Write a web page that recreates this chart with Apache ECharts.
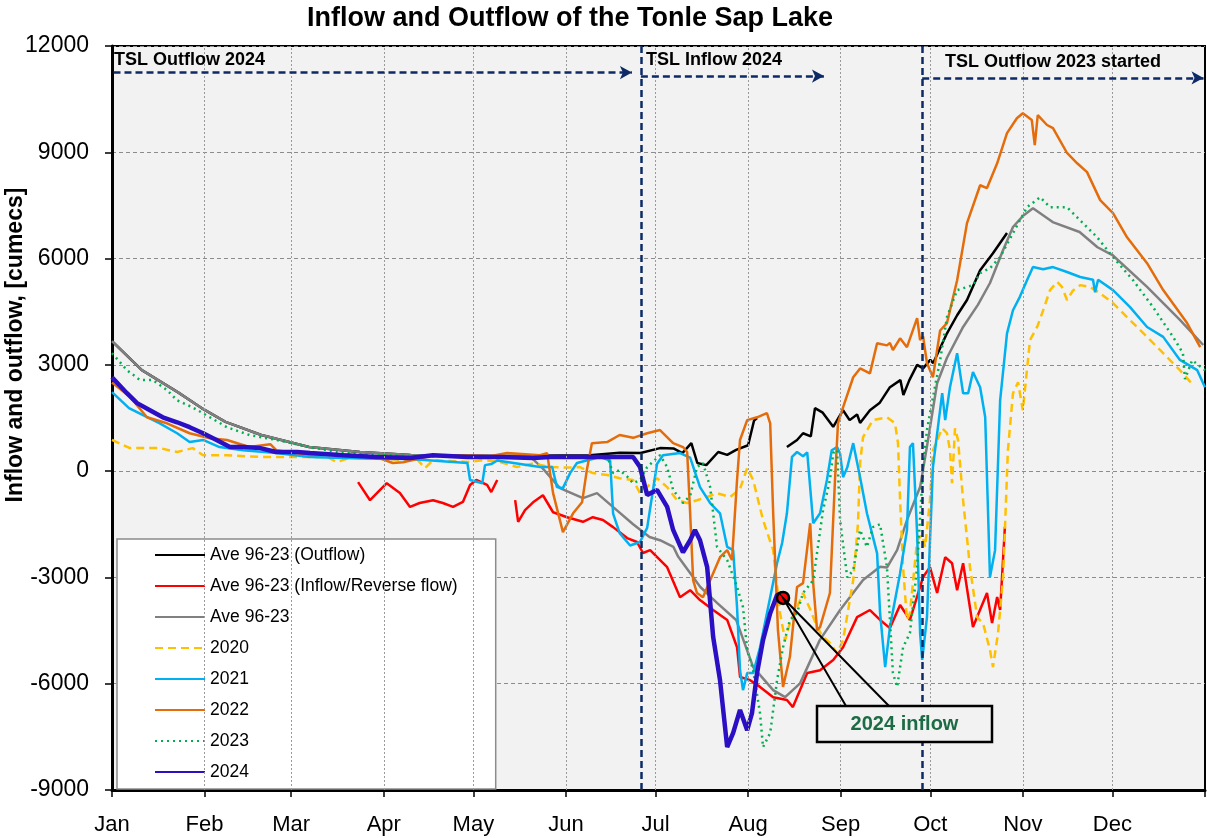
<!DOCTYPE html>
<html>
<head>
<meta charset="utf-8">
<title>Inflow and Outflow of the Tonle Sap Lake</title>
<script src="https://cdn.jsdelivr.net/npm/echarts@6/dist/echarts.min.js"></script>
<style>
  html, body { margin: 0; padding: 0; background: #fff; }
  #main { width: 1207px; height: 838px; }
</style>
</head>
<body>
<div id="main"></div>
<script>
// x = day of year (0 = 1 Jan), y = flow in cumecs
const monthStarts = [0, 31, 60, 91, 121, 152, 182, 213, 244, 274, 305, 335, 366]
const monthNames = ['Jan', 'Feb', 'Mar', 'Apr', 'May', 'Jun', 'Jul', 'Aug', 'Sep', 'Oct', 'Nov', 'Dec']
const yTicks = [-9000, -6000, -3000, 0, 3000, 6000, 9000, 12000]

const aveOutflow = [
  [0, 3670], [10, 2850], [22, 2230], [30, 1780], [38, 1390], [50, 1020], [66, 680], [83, 540], [100, 455],
  [130, 430], [160, 450], [170, 520], [177, 510], [183.5, 650], [188, 640], [191, 510], [194, 790], [196, 230],
  [199, 170], [203, 540], [206, 460], [209, 600], [213, 730], [215, 1430], [216, 1500], [220, null],
  [226, 680], [229.4, 880], [231.4, 1070], [234, 980], [235.4, 1780], [238, 1650], [241.5, 1250], [244.8, 1720],
  [247, 1440], [249.5, 1600], [250.5, 1360], [253.8, 1720], [257, 1920], [260.5, 2370], [264, 2570], [265, 2150],
  [267, 2570], [269.6, 3000], [271.6, 2900], [274, 3140], [275, 3050], [279.6, 3890], [283, 4400], [286.3, 4830],
  [290.7, 5670], [295, 6150], [299.7, 6720]
]

const aveInflow = [
  [82.4, -310], [86.4, -820], [92, -340], [96.4, -620], [99.8, -1010], [103, -900], [107.5, -820], [110.8, -900],
  [114.2, -1010], [117.5, -870], [119.9, -390], [122, -250], [125.6, -390], [127, -590], [129, -250], [132, null],
  [135, -820], [136, -1430], [138.3, -1100], [141, -880], [144.3, -680], [147.7, -1160], [152.4, -1300],
  [157.7, -1430], [161, -1300], [164.4, -1380], [167.8, -1580], [172.5, -1890], [175.8, -2000], [177.8, -2310],
  [180.2, -2230], [185.9, -2710], [190.2, -3560], [193.6, -3360], [196.9, -3640], [201.3, -3920], [206, -4200],
  [209.3, -4970], [210.3, -5810], [213.7, -5900], [217, -6090], [221.4, -6380], [226, -6460], [228, -6660],
  [232.8, -5700], [237.1, -5620], [241.5, -5330], [244.8, -4970], [249.5, -4120], [253.8, -3920], [257.2, -4200],
  [260.5, -4430], [263.9, -3780], [267.2, -4200], [271.6, -2990], [273.9, -2710], [276.3, -3440], [279, -2430],
  [281.3, -2600], [283, -3360], [285, -2600], [288.3, -4400], [293, -3440], [294.7, -4290], [296.4, -3550],
  [297.4, -3920], [299, -1570]
]

const aveAll = [
  [0, 3670], [10, 2850], [22, 2230], [30, 1780], [38, 1390], [50, 1020], [66, 680], [83, 540], [100, 455],
  [120, 430], [140, 410], [144, 100], [150, -480], [157.7, -760], [162.4, -620], [169, -1100], [174.5, -1500],
  [180, -1860], [183.5, -1950], [188, -2140], [189.5, -2400], [197, -3270], [202.6, -3720], [209, -4200],
  [214.7, -5530], [221.4, -6180], [225.4, -6380], [230.4, -5990], [237, -4770], [243.8, -3920], [251.5, -3070],
  [257.2, -2700], [259.5, -2720], [262.9, -2230], [266.2, -1380], [270.6, -450], [272.9, 700], [276.3, 2480],
  [279.6, 3200], [285, 4070], [290, 4700], [294, 5310], [298.4, 6240], [301.7, 6890], [305, 7200], [308.4, 7420],
  [315, 7030], [324, 6750], [330, 6320], [335, 6100], [346.6, 5200], [357.6, 4270], [365.4, 3560]
]

const y2020 = [
  [0, 880], [6, 650], [10.4, 650], [16, 650], [21.8, 540], [27, 650], [30.5, 450], [38.5, 450], [49.6, 400],
  [60.6, 400], [72, 400], [75.3, 255], [79.7, 380], [88.7, 350], [99.8, 310], [102, 350], [104.8, 85], [107.5, 310],
  [119, 260], [124.2, 310], [130, 260], [135.6, 115], [141, 220], [146.7, 115], [152.4, 100], [156.7, 115],
  [161, -55], [165.8, -110], [170, -200], [174.5, -250], [176.8, -620], [182.5, -200], [185.9, -450], [189.2, -820],
  [192.6, -900], [195.9, -820], [199.3, -730], [202.6, -620], [207, -730], [210.3, -500], [212.7, 85], [214.7, -250],
  [218, -1380], [221.4, -2230], [223.7, -4010], [225.4, -4770], [227, -4290], [229.4, -3840], [231.4, -3440],
  [233.8, -3900], [236.1, -4400], [238.1, -4680], [240.4, -4850], [242.8, -5140], [244.8, -4770], [248.2, -3080],
  [249.8, -1470], [250.5, 230], [251.5, 960], [254.8, 1440], [259.5, 1520], [262.2, 1350], [263.2, 790],
  [263.9, -820], [264.9, -2710], [266.2, -4200], [267.2, -4000], [268.2, -3160], [269.6, -1950], [271.3, -1800],
  [272.3, -2140], [273.9, -820], [274.9, 590], [278, 1210], [279.6, 1070], [280.6, 590], [281.3, -340],
  [282.3, 1210], [283.3, 880], [285, -820], [287.3, -2710], [289.7, -4120], [291.7, -4300], [294, -5050],
  [295, -5530], [296.7, -4570], [298.4, -2990], [300, 590], [301.7, 2200], [303.4, 2510], [305, 1720],
  [307.4, 3700], [309.8, 4070], [311.8, 4540], [314.1, 5110], [316.5, 5340], [318.1, 5200], [319.8, 4830],
  [321.8, 5100], [324.2, 5250], [327.5, 5200], [330.9, 5020], [335.2, 4740], [340.9, 4260], [346.6, 3790],
  [352, 3330], [357.6, 2850], [362, 2430]
]

const y2021 = [
  [0, 2230], [5.7, 1780], [10.4, 1580], [16, 1350], [21.8, 1070], [26, 820], [30.5, 880], [36, 680], [43.9, 590],
  [55, 510], [66.3, 400], [77.4, 370], [88.7, 350], [99.8, 340], [119, 230], [119.9, -250], [124, -340],
  [124.9, 170], [127, 200], [129, 300], [143.3, 115], [147.4, 115], [149, -450], [151, -480], [153.4, -55],
  [155.7, 230], [163.4, 400], [166.8, 300], [167.8, -1200], [170, -1750], [173.5, -2100], [176.8, -2000],
  [179.2, -1600], [182.5, 200], [184.5, 450], [190.2, 510], [193.6, 380], [196.9, -450], [200.3, -900],
  [203.6, -1190], [206, -2140], [208, -2230], [209.3, -3840], [210.3, -5620], [211.3, -6180], [212.7, -5700],
  [214.7, -5700], [217, -4970], [220.4, -3560], [222.7, -2600], [224.4, -2030], [226, -1190], [227.7, 400],
  [229.4, 540], [231.4, 420], [232.8, 530], [234.8, -1470], [237.1, -1190], [239.4, -250], [241, 590],
  [242.8, 680], [243.8, 500], [244.8, -170], [246.2, 100], [248.2, 790], [250.5, -170], [252.8, -1190],
  [256.2, -2320], [257.2, -4010], [258.9, -5530], [260.5, -4400], [263.9, -2880], [266.2, -1670], [267.2, 680],
  [268.2, 790], [269.6, -1750], [270.6, -4570], [271.3, -5330], [272.9, -4120], [274.9, 115], [278, 2200],
  [279, 1440], [280.6, 2370], [283, 3330], [285, 2200], [286.7, 2200], [288.3, 2800], [290.7, 2370],
  [292.4, 1520], [294, -2990], [295.7, -2230], [297.4, 2000], [299.7, 3890], [301.7, 4540], [304, 4920],
  [306.4, 5390], [308.4, 5760], [311.8, 5700], [315.1, 5760], [319.8, 5620], [324.2, 5480], [328.5, 5400],
  [329.2, 5050], [330.2, 5400], [335.2, 5110], [340.9, 4630], [346.6, 4070], [352, 3790], [357.6, 3140],
  [363.4, 2850], [366, 2370]
]

const y2022 = [
  [0, 2500], [6, 2100], [11.7, 1520], [18.4, 1350], [26, 1070], [32.8, 930], [38.5, 880], [46, 680], [53, 760],
  [55, 590], [66.3, 455], [77.4, 480], [88.7, 400], [94, 230], [97.5, 250], [107.5, 450], [127, 430],
  [132.3, 510], [143.3, 450], [145.7, 510], [147.7, -620], [151, -1720], [154.4, -1190], [157.4, -880],
  [159, 30], [160.7, 790], [165.8, 820], [170, 1020], [174.5, 940], [179.2, 1070], [183.5, 1160], [187.9, 790],
  [191.2, 680], [192.6, 540], [193.6, -1190], [194.6, -3080], [195.9, -3440], [197.9, -3560], [200.3, -3080],
  [203.6, -2430], [206, -2230], [207.6, -2510], [209.3, -250], [210.3, 880], [212.7, 1440], [216, 1520],
  [219.3, 1640], [220.4, 1350], [221.4, -1190], [223, -4490], [224.7, -6090], [227, -5240], [229.4, -3270],
  [231.4, -3160], [233.8, -1470], [234.8, -3160], [236.1, -4490], [237.1, -4400], [240.4, -3440], [242.1, -250],
  [243.1, 1350], [244.8, 1800], [248.2, 2650], [250.5, 2900], [253.8, 2760], [256.2, 3610], [259.5, 3550],
  [260.5, 3620], [261.5, 3420], [263.9, 3750], [266.2, 3500], [269.6, 4320], [270.6, 3700], [271.6, 3800],
  [272.9, 3050], [274.9, 2650], [277.3, 3970], [279.6, 4180], [283, 5390], [286.3, 7000], [290.7, 8070],
  [293, 7990], [296.4, 8690], [299.7, 9540], [303, 9960], [305, 10100], [308, 9910], [309, 9200], [310, 10050],
  [313.1, 9770], [315.1, 9680], [319.8, 8980], [323.2, 8690], [326.5, 8440], [330.9, 7650], [335.2, 7280],
  [339.9, 6600], [346.6, 5870], [352, 5110], [360, 4180], [364.4, 3500]
]

const y2023 = [
  [0, 3330], [5, 2850], [9.4, 2570], [13.7, 2570], [18.4, 2290], [21.8, 2000], [27, 1800], [32.8, 1520],
  [38.5, 1240], [46, 1020], [55, 880], [66.3, 680], [77.4, 510], [88.7, 455], [99.8, 430], [130, 400], [160, 420],
  [165.8, 420], [167.8, -55], [170, 30], [172.5, -150], [174.5, -340], [176.8, -250], [179.2, 115], [183.5, 450],
  [185.9, 115], [187.9, -530], [191.2, -900], [193.6, -700], [195.9, 115], [197.9, 230], [200.3, -450],
  [202.6, -2140], [206, -2510], [209.3, -3270], [211.3, -3840], [212.7, -5050], [214.7, -5620], [217, -6830],
  [218, -7790], [220.4, -7390], [222.7, -5900], [224.7, -4970], [227, -4200], [229.4, -4000], [231.4, -3440],
  [234.8, -3080], [238.1, -1100], [240.4, -250], [241.5, 510], [242.8, 600], [243.8, -1380], [246.2, -3000],
  [248.2, -2800], [250.5, -1660], [252.8, -2140], [254.8, -1580], [257.2, -1500], [259.5, -2710], [261.5, -5700],
  [262.9, -6090], [264.9, -4970], [267.2, -4570], [269.6, -2710], [271.6, 115], [272.9, 1160], [274.9, 2090],
  [277.3, 3130], [279.6, 4350], [283, 5110], [288.3, 5250], [290.7, 5590], [294, 5730], [297.4, 6040],
  [301.7, 6720], [306.4, 7450], [310.8, 7730], [314.1, 7450], [319.8, 7450], [324.2, 7080], [329.9, 6600],
  [335.2, 6040], [341.9, 5390], [348.6, 4630], [355.3, 3790], [358.6, 3330], [359.3, 2600], [361.7, 3130],
  [366, 2850]
]

const y2024 = [
  [0, 2650], [5, 2200], [8.4, 1920], [12.7, 1720], [17, 1520], [21.8, 1380], [26, 1240], [30.5, 1070], [35, 880],
  [39.5, 680], [43.9, 680], [49.6, 650], [55, 540], [62, 540], [66.3, 510], [77.4, 450], [88.7, 400], [99.8, 370],
  [107.5, 450], [119, 400], [130, 400], [141, 370], [146.7, 400], [157.7, 400], [165.8, 400], [174.5, 400],
  [176.8, 120], [179.2, -670], [182.5, -530], [185.9, -1010], [187.9, -1660], [191.2, -2290], [193.6, -1950],
  [195.2, -1660], [196.9, -1950], [199.3, -2710], [201.3, -4680], [203.6, -5900], [206, -7790], [208, -7390],
  [210.3, -6740], [212.7, -7310], [214.3, -6830], [216, -5700], [218, -4770], [220.4, -4010], [222.7, -3500],
  [224.4, -3440]
]

const calloutPoint = [224.7, -3580]

const font = '"Liberation Sans", Arial, sans-serif'

function lineSeries(name, data, color, width, type, z) {
  return {
    name: name,
    type: 'line',
    data: data,
    symbol: 'none',
    z: z,
    lineStyle: { color: color, width: width, type: type || 'solid' },
    itemStyle: { color: color },
    emphasis: { disabled: true }
  }
}

const chart = echarts.init(document.getElementById('main'))

const series = [
  lineSeries('Ave 96-23 (Outflow)', aveOutflow, '#000000', 2.5, 'solid', 2),
  lineSeries('Ave 96-23 (Inflow/Reverse flow)', aveInflow, '#ff0000', 2.5, 'solid', 2),
  lineSeries('Ave 96-23', aveAll, '#808080', 2.5, 'solid', 2),
  lineSeries('2020', y2020, '#ffc000', 2.5, [8, 5], 2),
  lineSeries('2021', y2021, '#00b0f0', 2.5, 'solid', 2),
  lineSeries('2022', y2022, '#e46c0a', 2.5, 'solid', 2),
  lineSeries('2023', y2023, '#00b050', 2.5, [2, 4], 2),
  lineSeries('2024', y2024, '#2a0fc4', 4.5, 'solid', 3)
]
series[7].markPoint = {
  silent: true,
  symbol: 'circle',
  symbolSize: 12,
  itemStyle: { color: '#ff0000', borderColor: '#000', borderWidth: 2.5 },
  label: { show: false },
  data: [{ coord: calloutPoint }]
}

// month grid lines
series.push({
  type: 'line',
  data: [],
  z: 1,
  markLine: {
    silent: true,
    symbol: 'none',
    label: { show: false },
    lineStyle: { color: '#9a9a9a', width: 1, type: [2, 2] },
    data: monthStarts.slice(1, 12).map(d => ({ xAxis: d }))
  }
})

// phase separators and arrows
series.push({
  type: 'line',
  data: [],
  z: 4,
  markLine: {
    silent: true,
    symbol: ['none', 'arrow'],
    symbolSize: [10, 12],
    label: { show: false },
    lineStyle: { color: '#0d2a66', width: 2.5, type: [7, 4] },
    data: [
      [{ xAxis: 177.1, yAxis: -9000, symbol: 'none' }, { xAxis: 177.1, yAxis: 12000, symbol: 'none' }],
      [{ xAxis: 271.3, yAxis: -9000, symbol: 'none' }, { xAxis: 271.3, yAxis: 12000, symbol: 'none' }],
      [{ coord: [0.5, 11250] }, { coord: [174.1, 11250] }],
      [{ coord: [177.1, 11150] }, { coord: [238.4, 11150] }],
      [{ coord: [271.3, 11100] }, { coord: [365.5, 11100] }]
    ]
  }
})

const option = {
  animation: false,
  textStyle: { fontFamily: font },
  title: {
    text: 'Inflow and Outflow of the Tonle Sap Lake',
    left: 565,
    top: 0,
    textAlign: 'center',
    textStyle: { fontSize: 27, fontWeight: 'bold', color: '#000', fontFamily: font }
  },
  grid: {
    left: 112,
    right: 2,
    top: 46,
    bottom: 48,
    outerBoundsMode: 'none',
    containLabel: false,
    show: true,
    backgroundColor: '#f2f2f2',
    borderColor: '#000',
    borderWidth: 2
  },
  legend: {
    orient: 'vertical',
    left: 117,
    top: 539,
    selectedMode: false,
    data: series.slice(0, 8).map(s => s.name),
    itemWidth: 50,
    itemHeight: 14,
    itemGap: 13,
    padding: [7, 38, 8, 37],
    itemStyle: { opacity: 0 },
    backgroundColor: '#ffffff',
    borderColor: '#8c8c8c',
    borderWidth: 1.5,
    borderRadius: 0,
    textStyle: { fontSize: 17.5, color: '#000', fontFamily: font }
  },
  xAxis: {
    type: 'value',
    min: 0,
    max: 366,
    axisLine: { show: true, onZero: false, lineStyle: { color: '#000', width: 3 } },
    axisTick: { show: true, customValues: monthStarts, length: 7, lineStyle: { color: '#000', width: 1.5 } },
    axisLabel: {
      customValues: monthStarts.slice(0, 12),
      formatter: v => monthNames[monthStarts.indexOf(v)],
      fontSize: 22,
      color: '#000',
      margin: 24
    },
    splitLine: { show: false }
  },
  yAxis: {
    type: 'value',
    min: yTicks[0],
    max: yTicks[yTicks.length - 1],
    interval: 3000,
    axisLine: { show: true, lineStyle: { color: '#000', width: 3 } },
    axisTick: { show: true, length: 7, lineStyle: { color: '#000', width: 1.5 } },
    axisLabel: { fontSize: 23, color: '#000', margin: 23, formatter: v => String(v) },
    splitLine: { show: true, lineStyle: { color: '#8c8c8c', width: 1, type: [4, 3] } }
  },
  series: series
}

chart.setOption(option)

// axis title, text annotations and the 2024 inflow callout
const dot = chart.convertToPixel({ gridIndex: 0 }, calloutPoint)
const box = { x: 817, y: 706, w: 175, h: 36 }
const annoStyle = { fontSize: 18, fontWeight: 'bold', fill: '#000', fontFamily: font }
chart.setOption({
  graphic: [
    {
      type: 'text', x: 16, y: 345, rotation: Math.PI / 2,
      style: { text: 'Inflow and outflow, [cumecs]', align: 'center', verticalAlign: 'middle', fontSize: 23, fontWeight: 'bold', fill: '#000', fontFamily: font }
    },
    { type: 'text', x: 114, y: 60, style: Object.assign({ text: 'TSL Outflow 2024', verticalAlign: 'middle' }, annoStyle), z: 10 },
    { type: 'text', x: 646, y: 60, style: Object.assign({ text: 'TSL Inflow 2024', verticalAlign: 'middle' }, annoStyle), z: 10 },
    { type: 'text', x: 945, y: 62, style: Object.assign({ text: 'TSL Outflow 2023 started', verticalAlign: 'middle' }, annoStyle), z: 10 },
    {
      type: 'polyline',
      z: 10,
      shape: { points: [[box.x + 29, box.y], dot, [box.x + 72, box.y]] },
      style: { stroke: '#000', lineWidth: 2, fill: null }
    },
    {
      type: 'rect',
      z: 11,
      shape: { x: box.x, y: box.y, width: box.w, height: box.h },
      style: { fill: '#f2f2f2', stroke: '#000', lineWidth: 2.5 }
    },
    {
      type: 'text',
      z: 12,
      x: box.x + box.w / 2,
      y: box.y + box.h / 2,
      style: { text: '2024 inflow', align: 'center', verticalAlign: 'middle', fontSize: 20, fontWeight: 'bold', fill: '#1d6b44', fontFamily: font }
    }
  ]
})
</script>
</body>
</html>
